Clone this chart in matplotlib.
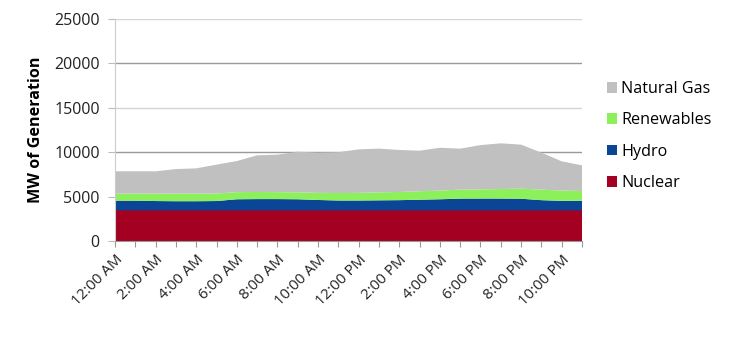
import matplotlib
matplotlib.use("Agg")
import matplotlib.pyplot as plt
import numpy as np

plt.rcParams['font.family'] = ['Open Sans', 'DejaVu Sans']

hours = [f"{h % 12 or 12}:00 {'AM' if h < 12 else 'PM'}" for h in range(24)]

# cumulative tops read per hour (MW)
total_top = [7850, 7850, 7850, 8100, 8180, 8600, 9000, 9650, 9720, 10060, 9950, 10000,
             10320, 10400, 10250, 10170, 10500, 10400, 10800, 11000, 10850, 9950, 8970, 8520]
renew_top = [5330, 5330, 5330, 5330, 5330, 5350, 5500, 5520, 5500, 5480, 5420, 5400,
             5420, 5480, 5520, 5600, 5680, 5780, 5820, 5850, 5900, 5780, 5680, 5630]
hydro_top = [4540, 4540, 4500, 4480, 4480, 4500, 4700, 4720, 4720, 4700, 4620, 4560,
             4560, 4580, 4600, 4650, 4700, 4770, 4780, 4780, 4760, 4600, 4520, 4520]
nuclear = [3450] * 24

hydro = [h - n for h, n in zip(hydro_top, nuclear)]
renewables = [r - h for r, h in zip(renew_top, hydro_top)]
natural_gas = [t - r for t, r in zip(total_top, renew_top)]

series = ["Nuclear", "Hydro", "Renewables", "Natural Gas"]
colors = ["#a30022", "#0a4596", "#8cf05a", "#c0c0c0"]

fig = plt.figure(figsize=(7.41, 3.37), dpi=100)
ax = fig.add_axes([115 / 741, 1 - 241 / 337, 467 / 741, 222 / 337])

x = np.arange(24)
ax.stackplot(x, nuclear, hydro, renewables, natural_gas,
             colors=colors, labels=series, linewidth=0)

ax.set_xlim(0, 23)
ax.set_ylim(0, 25000)
ax.set_yticks(range(0, 25001, 5000))
for v in range(5000, 25001, 5000):
    c = "#9a9a9a" if v % 10000 == 0 else "#d4d4d4"
    ax.axhline(v, color=c, lw=1, zorder=0)

ax.set_xticks(x)
ax.set_xticklabels([lab if i % 2 == 0 else "" for i, lab in enumerate(hours)],
                   rotation=45, ha="right", rotation_mode="anchor", fontsize=10.8,
                   color="#222222")
ax.tick_params(axis="y", labelsize=11.5, colors="#222222", length=5, color="#bbbbbb", pad=6)
ax.tick_params(axis="x", length=4, color="#999999", pad=4)

for s in ["top", "right"]:
    ax.spines[s].set_visible(False)
ax.spines["left"].set_color("#cccccc")
ax.spines["bottom"].set_color("#999999")

ax.set_ylabel("MW of Generation", fontsize=11.6, fontweight="bold")
ax.yaxis.set_label_coords(-71 / 467, 0.5)

handles, labels = ax.get_legend_handles_labels()
fig.legend(handles[::-1], labels[::-1], loc="center left",
           bbox_to_anchor=(592 / 741, 1 - 136 / 337), frameon=False,
           fontsize=11.6, handlelength=0.65, handleheight=0.65,
           handletextpad=0.25, labelspacing=0.96)

fig.savefig("out.png", dpi=100)
